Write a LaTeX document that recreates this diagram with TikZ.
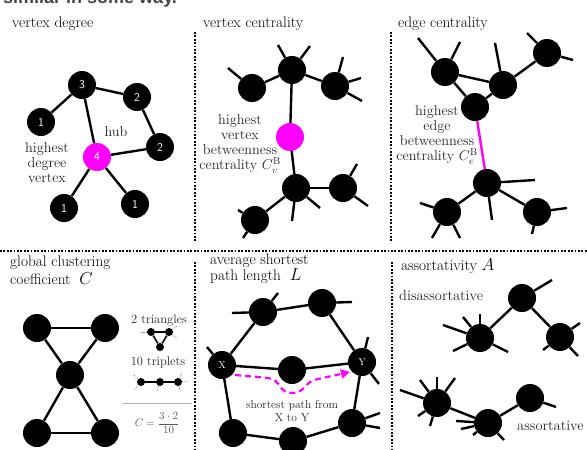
\documentclass[tikz,border=0pt]{standalone}
\usepackage{fontspec}
\newfontfamily\topfont{Liberation Sans}
\usetikzlibrary{arrows.meta}
\definecolor{mag}{RGB}{255,0,255}
\definecolor{topgray}{RGB}{70,70,70}
\newcommand\bigsym[1]{{\fontsize{19}{20}\selectfont$#1$}}
\begin{document}
\begin{tikzpicture}[x=1pt,y=-1pt,
  vtx/.style={circle,fill=black,inner sep=0pt,minimum size=28pt,text=white,font=\sffamily\fontsize{12}{13}\selectfont},
  mini/.style={circle,fill=black,inner sep=0pt,minimum size=8pt},
  edge/.style={line width=2.4pt},
  ministub/.style={gray,line width=0.6pt,dash pattern=on 1.2pt off 1pt},
  sep/.style={line width=2.4pt,dash pattern=on 1.8pt off 1.6pt},
  ttl/.style={font=\fontsize{15.3}{17}\selectfont,anchor=base west,inner sep=0pt},
  lbl/.style={font=\fontsize{14.3}{15}\selectfont,align=center,inner sep=0pt,text=black!85},
]
\useasboundingbox (0,0) rectangle (587,450);
% cut-off top text
\node[anchor=base west,inner sep=0pt,text=topgray,font=\topfont\bfseries\fontsize{18}{20}\selectfont] (toptext) at (3,3) {similar in some way.};
% separators
\coordinate (s1a) at (195,32); \coordinate (s1b) at (195,241);
\coordinate (s2a) at (391,32); \coordinate (s2b) at (391,241);
\coordinate (h1) at (0,251); \coordinate (h2) at (587,251);
\coordinate (s3a) at (195,262); \coordinate (s3b) at (195,450);
\coordinate (s4a) at (392,262); \coordinate (s4b) at (392,450);
\draw[sep] (s1a) -- (s1b);
\draw[sep] (s2a) -- (s2b);
\draw[sep] (h1) -- (h2);
\draw[sep] (s3a) -- (s3b);
\draw[sep] (s4a) -- (s4b);

% ---------- panel 1: vertex degree
\node[ttl] (t1) at (12,27) {vertex degree};
\node[vtx] (a3) at (82,85) {3};
\node[vtx] (a2t) at (137,97) {2};
\node[vtx] (a1l) at (41,122) {1};
\node[vtx] (a2r) at (160,147) {2};
\node[vtx,fill=mag] (a4) at (97,157) {4};
\node[vtx] (a1bl) at (64,208) {1};
\node[vtx] (a1br) at (135,204) {1};
\draw[edge] (a3) -- (a1l);
\draw[edge] (a3) -- (a2t);
\draw[edge] (a2t) -- (a2r);
\draw[edge] (a2r) -- (a4);
\draw[edge] (a3) -- (a4);
\draw[edge] (a4) -- (a1bl);
\draw[edge] (a4) -- (a1br);
\node[lbl] (hub) at (116,132) {hub};
\node[lbl] (hdv) at (47,163) {highest\\degree\\vertex};

% ---------- panel 2: vertex centrality
\node[ttl] (t2) at (203,27) {vertex centrality};
\node[vtx] (b1) at (292,70) {};
\node[vtx] (b2) at (252,88) {};
\node[vtx] (b3) at (335,86) {};
\node[vtx,fill=mag] (bm) at (290,137) {};
\node[vtx] (b4) at (296,188) {};
\node[vtx] (b5) at (343,188) {};
\node[vtx] (b6) at (255,220) {};
\draw[edge] (b1) -- (b2);
\draw[edge] (b1) -- (b3);
\draw[edge] (b1) -- (bm);
\draw[edge] (bm) -- (b4);
\draw[edge] (b4) -- (b5);
\draw[edge] (b4) -- (b6);
\draw[edge] (b1) -- (278,45);
\draw[edge] (b1) -- (310,46);
\draw[edge] (b2) -- (228,68);
\draw[edge] (b3) -- (343,57);
\draw[edge] (b3) -- (361,78);
\draw[edge] (b3) -- (362,101);
\draw[edge] (b4) -- (292,221);
\draw[edge] (b4) -- (320,208);
\draw[edge] (b5) -- (357,164);
\draw[edge] (b5) -- (368,206);
\draw[edge] (b6) -- (238,210);
\draw[edge] (b6) -- (243,238);
\node[lbl] (hvb) at (240,144) {highest\\vertex\\betweenness\\centrality $C_v^{\mathrm{B}}$};

% ---------- panel 3: edge centrality
\node[ttl] (t3) at (398,27) {edge centrality};
\node[vtx] (cA) at (445,72) {};
\node[vtx] (cB) at (503,85) {};
\node[vtx] (cC) at (547,53) {};
\node[vtx] (cD) at (475,107) {};
\node[vtx] (cE) at (487,183) {};
\node[vtx] (cF) at (447,212) {};
\node[vtx] (cG) at (537,212) {};
\draw[edge] (cA) -- (cB);
\draw[edge] (cA) -- (cD);
\draw[edge] (cD) -- (cB);
\draw[edge] (cB) -- (cC);
\draw[edge,mag] (cD) -- (cE);
\draw[edge] (cE) -- (cF);
\draw[edge] (cE) -- (cG);
\draw[edge] (cA) -- (418,38);
\draw[edge] (cA) -- (460,42);
\draw[edge] (cB) -- (495,43);
\draw[edge] (cC) -- (527,33);
\draw[edge] (cC) -- (573,60);
\draw[edge] (cE) -- (535,180);
\draw[edge] (cE) -- (492,220);
\draw[edge] (cF) -- (420,203);
\draw[edge] (cF) -- (432,238);
\draw[edge] (cF) -- (460,238);
\draw[edge] (cG) -- (567,208);
\draw[edge] (cG) -- (532,234);
\node[lbl] (heb) at (437,135) {highest\\edge\\betweenness\\centrality $C_e^{\mathrm{B}}$};

% ---------- panel 4: global clustering coefficient
\node[ttl] (t4) at (10,266) {global clustering};
\node[ttl] (t4b) at (10,284) {coefficient\; \bigsym{C}};
\node[vtx] (dTL) at (37,328) {};
\node[vtx] (dTR) at (105,328) {};
\node[vtx] (dC) at (70,375) {};
\node[vtx] (dBL) at (37,433) {};
\node[vtx] (dBR) at (105,433) {};
\draw[edge] (dTL) -- (dTR);
\draw[edge] (dTL) -- (dC);
\draw[edge] (dTR) -- (dC);
\draw[edge] (dC) -- (dBL);
\draw[edge] (dC) -- (dBR);
\draw[edge] (dBL) -- (dBR);
\node[lbl,font=\fontsize{12.5}{14}\selectfont] (tri) at (159,320) {2 triangles};
\node[mini] (m1) at (151,332) {};
\node[mini] (m2) at (169,332) {};
\node[mini] (m3) at (160,347) {};
\draw[line width=1.6pt] (m1) -- (m2) -- (m3) -- (m1);
\draw[ministub] (m1) -- (141,332);
\draw[ministub] (m2) -- (177,326);
\draw[ministub] (m2) -- (177,339);
\node[lbl,font=\fontsize{12.5}{14}\selectfont] (tri2) at (158,362) {10 triplets};
\node[mini] (n1) at (141,382) {};
\node[mini] (n2) at (160,382) {};
\node[mini] (n3) at (178,382) {};
\draw[line width=1.6pt] (n1) -- (n2) -- (n3);
\draw[ministub] (n1) -- (133,374);
\draw[ministub] (n1) -- (134,390);
\draw[ministub] (n2) -- (157,391);
\draw[ministub] (n3) -- (182,373);
\draw[ministub] (n3) -- (189,381);
\draw[ministub] (n3) -- (180,391);
\coordinate (r1) at (122,403); \coordinate (r2) at (192,403);
\draw[gray!60,line width=0.8pt] (r1) -- (r2);
\node[lbl,text=black!65,font=\fontsize{10.5}{12}\selectfont] (form) at (157,423) {$\displaystyle C=\frac{3\cdot 2}{10}$};

% ---------- panel 5: average shortest path length
\node[ttl] (t5) at (210,264) {average shortest};
\node[ttl] (t5b) at (210,280) {path length\; \bigsym{L}};
\node[vtx] (eP1) at (263,312) {};
\node[vtx] (eP2) at (322,303) {};
\node[vtx,font=\rmfamily\fontsize{10}{12}\selectfont] (eX) at (222,365) {X};
\node[vtx] (eM) at (292,370) {};
\node[vtx,font=\rmfamily\fontsize{10}{12}\selectfont] (eY) at (362,362) {Y};
\node[vtx] (eB1) at (233,433) {};
\node[vtx] (eB2) at (293,441) {};
\node[vtx] (eB3) at (352,423) {};
\draw[edge] (eX) -- (eP1);
\draw[edge] (eP1) -- (eP2);
\draw[edge] (eP2) -- (eY);
\draw[edge] (eX) -- (eM);
\draw[edge] (eM) -- (eY);
\draw[edge] (eX) -- (eB1);
\draw[edge] (eB1) -- (eB2);
\draw[edge] (eB2) -- (eB3);
\draw[edge] (eB3) -- (eY);
\draw[edge] (eP1) -- (232,313);
\draw[edge] (eP1) -- (278,293);
\draw[edge] (eP2) -- (352,302);
\draw[edge] (eX) -- (207,347);
\draw[edge] (eY) -- (368,337);
\draw[edge] (eY) -- (379,384);
\draw[edge] (eB1) -- (220,435);
\draw[edge] (eB3) -- (380,413);
\draw[edge] (eB3) -- (380,428);
\coordinate (pa) at (235,375);
\coordinate (pb) at (350,372);
\draw[mag,line width=2.2pt,dash pattern=on 6pt off 4pt,-{Triangle[length=9pt,width=9pt]}]
  (pa) -- (268,378) .. controls (282,380) and (278,393) .. (292,393)
  .. controls (306,393) and (304,381) .. (318,379) -- (pb);
\node[lbl,font=\fontsize{11.5}{13}\selectfont] (spx) at (292,411) {shortest path from\\X to Y};

% ---------- panel 6: assortativity
\node[ttl] (t6) at (401,270) {assortativity \bigsym{A}};
\node[lbl,anchor=base west,font=\fontsize{14.5}{16}\selectfont] (dis) at (399,300) {disassortative};
\node[vtx] (fD1) at (522,298) {};
\node[vtx] (fD2) at (480,338) {};
\node[vtx] (fD3) at (560,337) {};
\draw[edge] (fD2) -- (fD1);
\draw[edge] (fD1) -- (fD3);
\draw[edge] (fD1) -- (552,280);
\draw[edge] (fD2) -- (443,325);
\draw[edge] (fD2) -- (463,317);
\draw[edge] (fD2) -- (480,314);
\draw[edge] (fD2) -- (453,351);
\draw[edge] (fD2) -- (508,352);
\draw[edge] (fD3) -- (580,323);
\draw[edge] (fD3) -- (543,350);
\draw[edge] (fD3) -- (578,356);
\node[vtx] (fA1) at (437,403) {};
\node[vtx] (fA2) at (488,423) {};
\node[vtx] (fA3) at (530,398) {};
\draw[edge] (fA1) -- (fA2);
\draw[edge] (fA2) -- (fA3);
\draw[edge] (fA1) -- (400,390);
\draw[edge] (fA1) -- (420,380);
\draw[edge] (fA1) -- (437,377);
\draw[edge] (fA1) -- (455,378);
\draw[edge] (fA1) -- (418,416);
\draw[edge] (fA1) -- (430,426);
\draw[edge] (fA2) -- (456,421);
\draw[edge] (fA2) -- (461,429);
\draw[edge] (fA2) -- (473,435);
\draw[edge] (fA2) -- (504,440);
\draw[edge] (fA3) -- (556,407);
\node[lbl,anchor=base west,font=\fontsize{14.5}{16}\selectfont] (ass) at (517,430) {assortative};
\end{tikzpicture}
\end{document}
